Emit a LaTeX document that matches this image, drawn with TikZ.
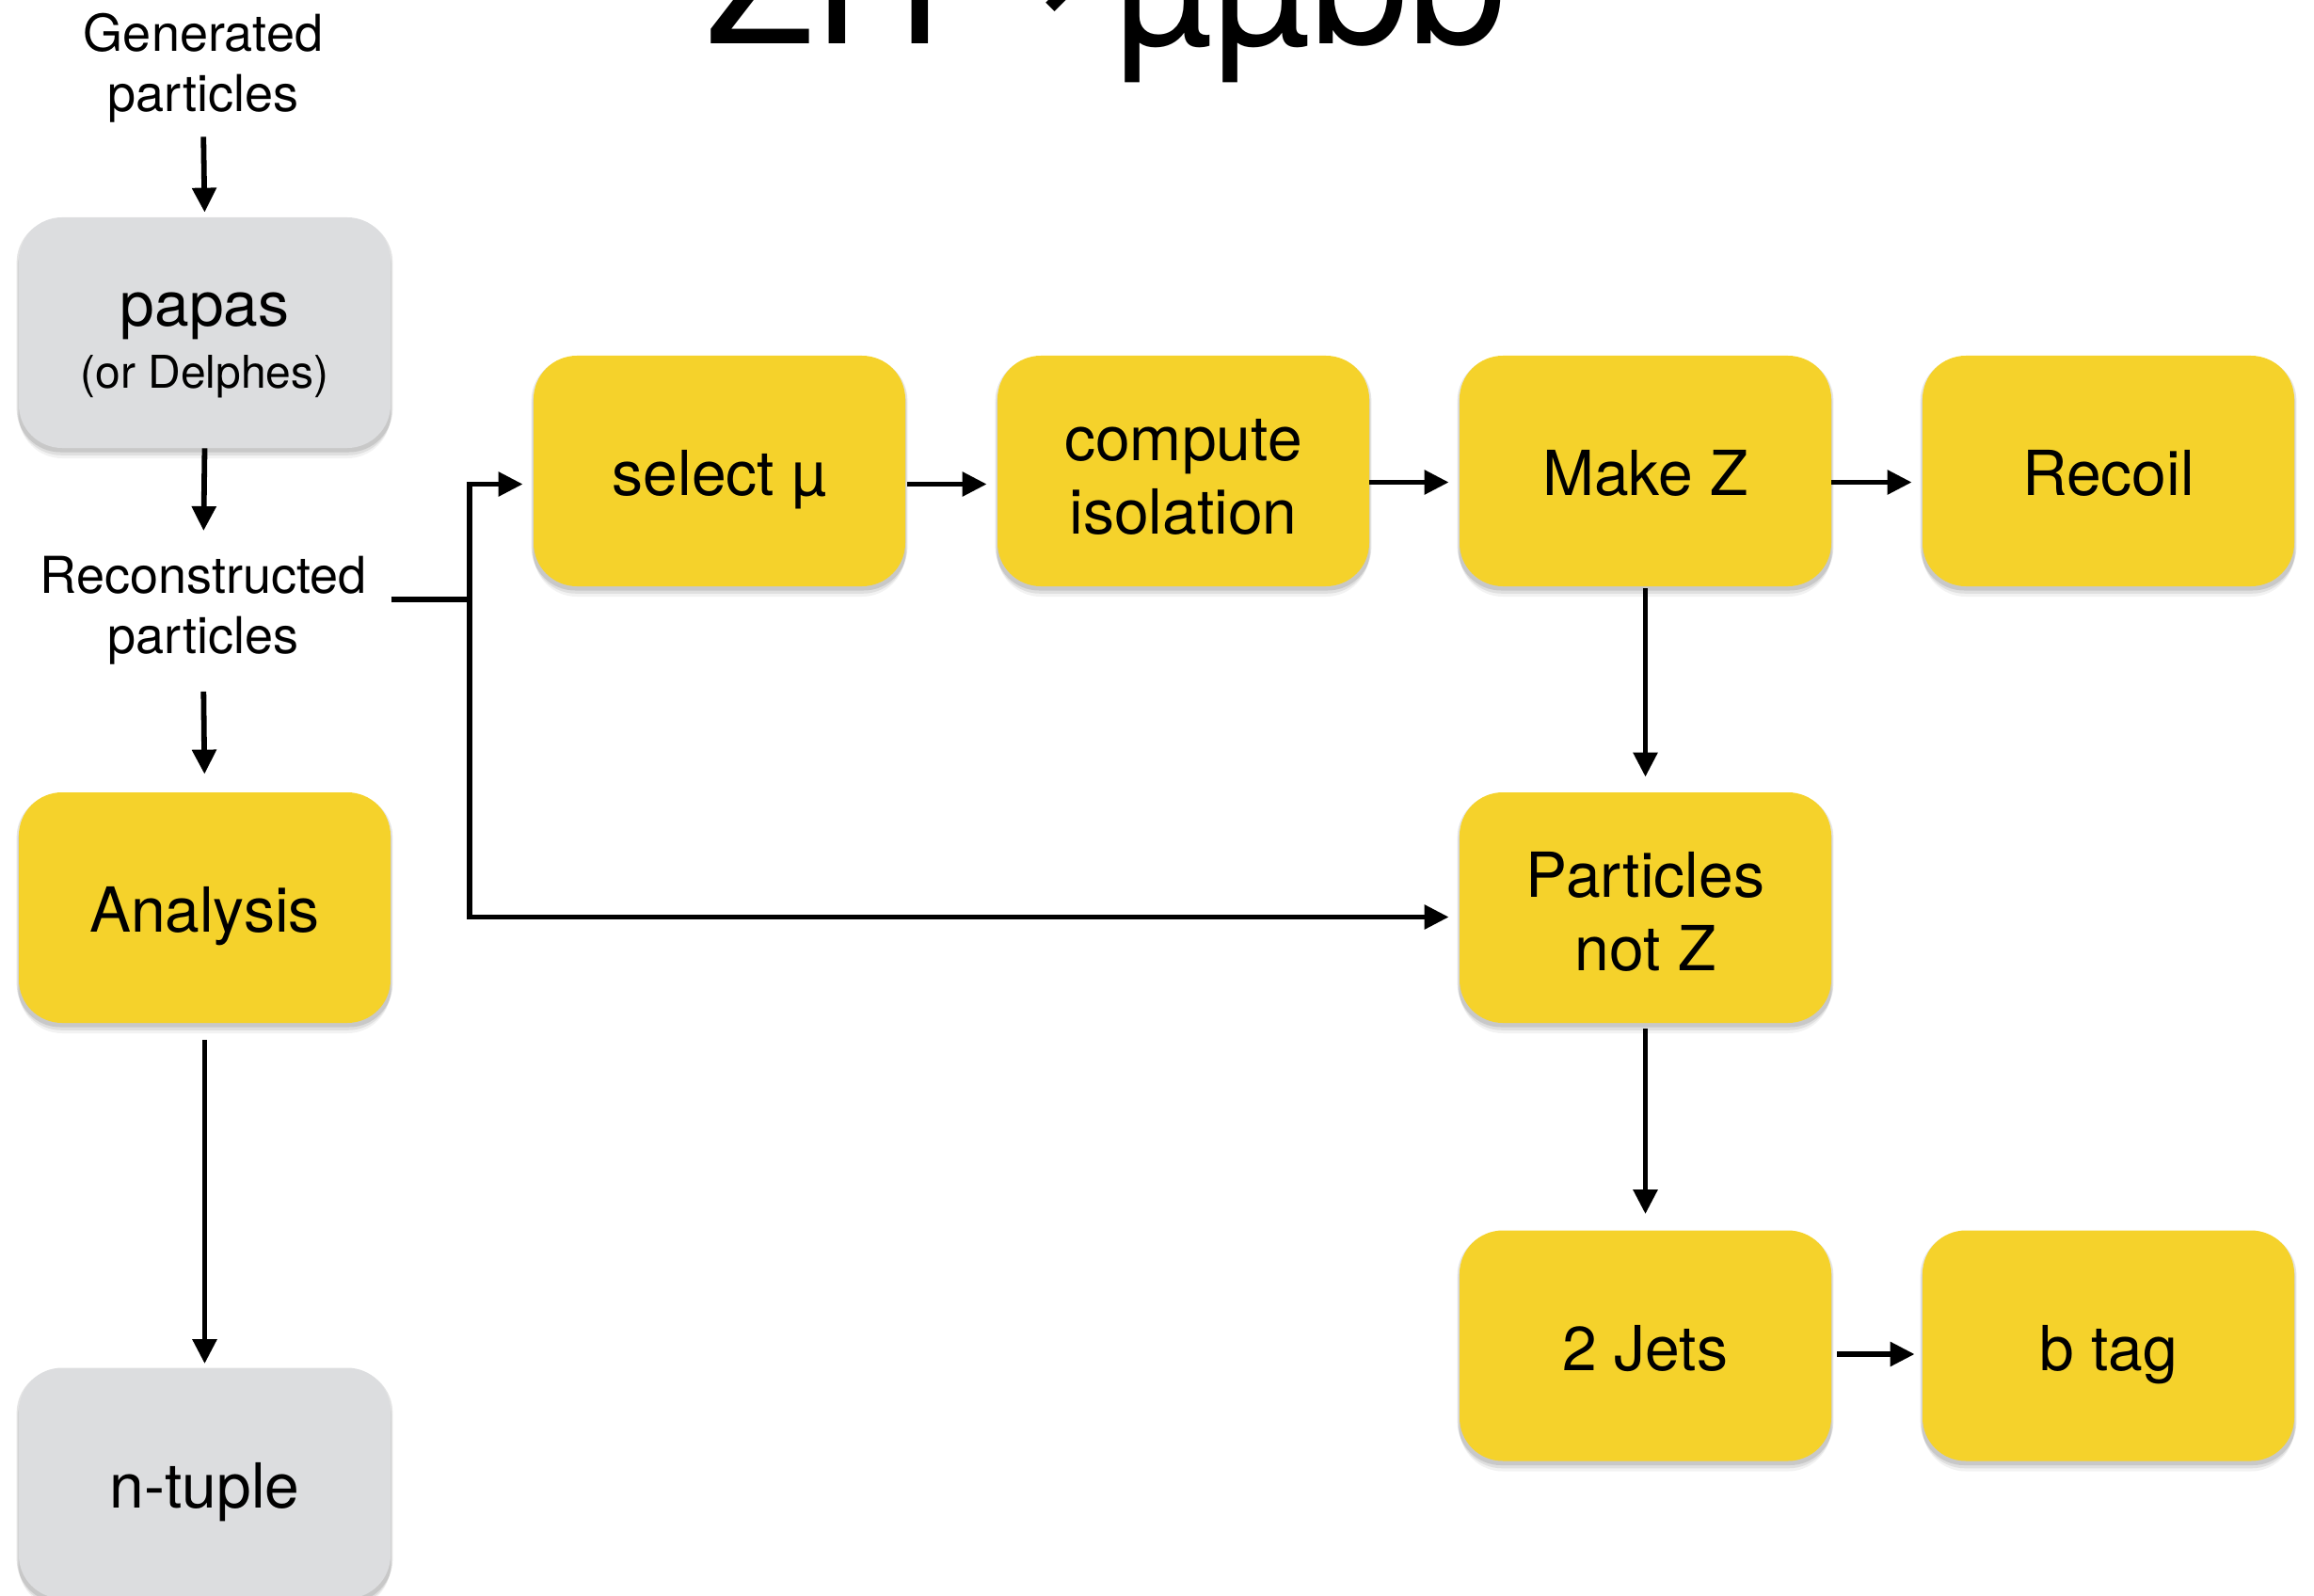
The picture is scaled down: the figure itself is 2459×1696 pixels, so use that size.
\documentclass[tikz,border=0pt]{standalone}
\usepackage{fontspec}
\setmainfont{TeX Gyre Heros}
\newfontfamily\arrowfont{DejaVu Sans}
\usetikzlibrary{arrows.meta,shadows}
\definecolor{boxyellow}{HTML}{F5D22B}
\definecolor{boxgray}{HTML}{DCDDDF}
\begin{document}
\begin{tikzpicture}[x=0.5pt,y=-0.5pt,
  softshadow/.style={
    drop shadow={shadow xshift=0pt, shadow yshift=-1.5pt, shadow scale=1.012, opacity=0.10, fill=black},
    drop shadow={shadow xshift=0pt, shadow yshift=-3.5pt, shadow scale=1.006, opacity=0.08, fill=black},
    drop shadow={shadow xshift=0pt, shadow yshift=-5.5pt, opacity=0.05, fill=black}},
  box/.style={rectangle, rounded corners=23pt, minimum width=197.5pt, minimum height=122.5pt,
    inner sep=0pt, align=center, font=\fontsize{33}{39}\selectfont, softshadow},
  ybox/.style={box, fill=boxyellow},
  gbox/.style={box, fill=boxgray},
  one/.style={text height=26pt, text depth=0pt},
  lbl/.style={align=center, font=\fontsize{27}{32}\selectfont, inner sep=0pt},
  conn/.style={line width=2.9pt},
  arr/.style={conn, -{Triangle[length=13pt,width=12.5pt]}},
]
\useasboundingbox (0,0) rectangle (2459,1696);

% title
\node[anchor=base west, inner sep=0pt, font=\fontsize{94}{100}\selectfont] (title) at (750,47)
  {ZH\hspace{12pt}\raisebox{9pt}{\arrowfont\fontsize{80}{90}\selectfont →}\hspace{12pt}µµbb};

% left column
\node[lbl] (gen) at (216,72) {Generated\\particles};
\node[gbox] (papas) at (217.5,353.5)
  {\rule{0pt}{32pt}papas\\[-6.5pt]{\fontsize{24}{28}\selectfont (or Delphes)\rule[-6pt]{0pt}{6pt}}};
\node[lbl] (reco) at (216,649) {Reconstructed\\particles};
\node[ybox, one] (ana) at (217.5,964.5) {Analysis};
\node[gbox, one] (ntup) at (217.5,1576) {n-tuple};

% right part
\node[ybox, one] (sel) at (764.5,500.5) {select µ};
\node[ybox] (iso) at (1257.5,500.5) {\rule{0pt}{28pt}compute\\isolation};
\node[ybox, one] (mkz) at (1748.5,500.5) {Make Z};
\node[ybox, one] (rec) at (2240.5,500.5) {Recoil};
\node[ybox] (pnz) at (1748.5,964.5) {\rule{0pt}{28.7pt}Particles\\not Z};
\node[ybox, one] (jets) at (1748.5,1430) {2 Jets};
\node[ybox, one] (btag) at (2240.5,1430) {b tag};

\coordinate (j) at (499,637);

% connectors left
\draw[arr, shorten <=7.5pt, shorten >=2.5pt] (gen.south) -- (papas.north);
\draw[arr, shorten >=13.5pt] (papas.south) -- (reco.north);
\draw[arr, shorten <=14pt, shorten >=9.5pt] (reco.south) -- (ana.north);
\draw[arr, shorten <=9pt, shorten >=2pt] (ana.south) -- (ntup.north);

% branch
\draw[conn] ([xshift=13pt]reco.east |- j) -- (j);
\draw[arr, shorten >=5.5pt] (j) |- ([yshift=-7pt]sel.west);
\draw[arr, shorten >=5.5pt] (j) |- ([yshift=-5pt]pnz.west);

% chain
\draw[arr, shorten <=1pt, shorten >=5.5pt] ([yshift=-7pt]sel.east) -- ([yshift=-7pt]iso.west);
\draw[arr, shorten >=5.5pt] ([yshift=-6pt]iso.east) -- ([yshift=-6pt]mkz.west);
\draw[arr, shorten >=5.5pt] ([yshift=-6pt]mkz.east) -- ([yshift=-6pt]rec.west);
\draw[arr, shorten <=1pt, shorten >=8pt] (mkz.south) -- (pnz.north);
\draw[arr, shorten <=3pt, shorten >=8.5pt] (pnz.south) -- (jets.north);
\draw[arr, shorten <=3pt, shorten >=4pt] ([yshift=-4.5pt]jets.east) -- ([yshift=-4.5pt]btag.west);
\end{tikzpicture}
\end{document}
